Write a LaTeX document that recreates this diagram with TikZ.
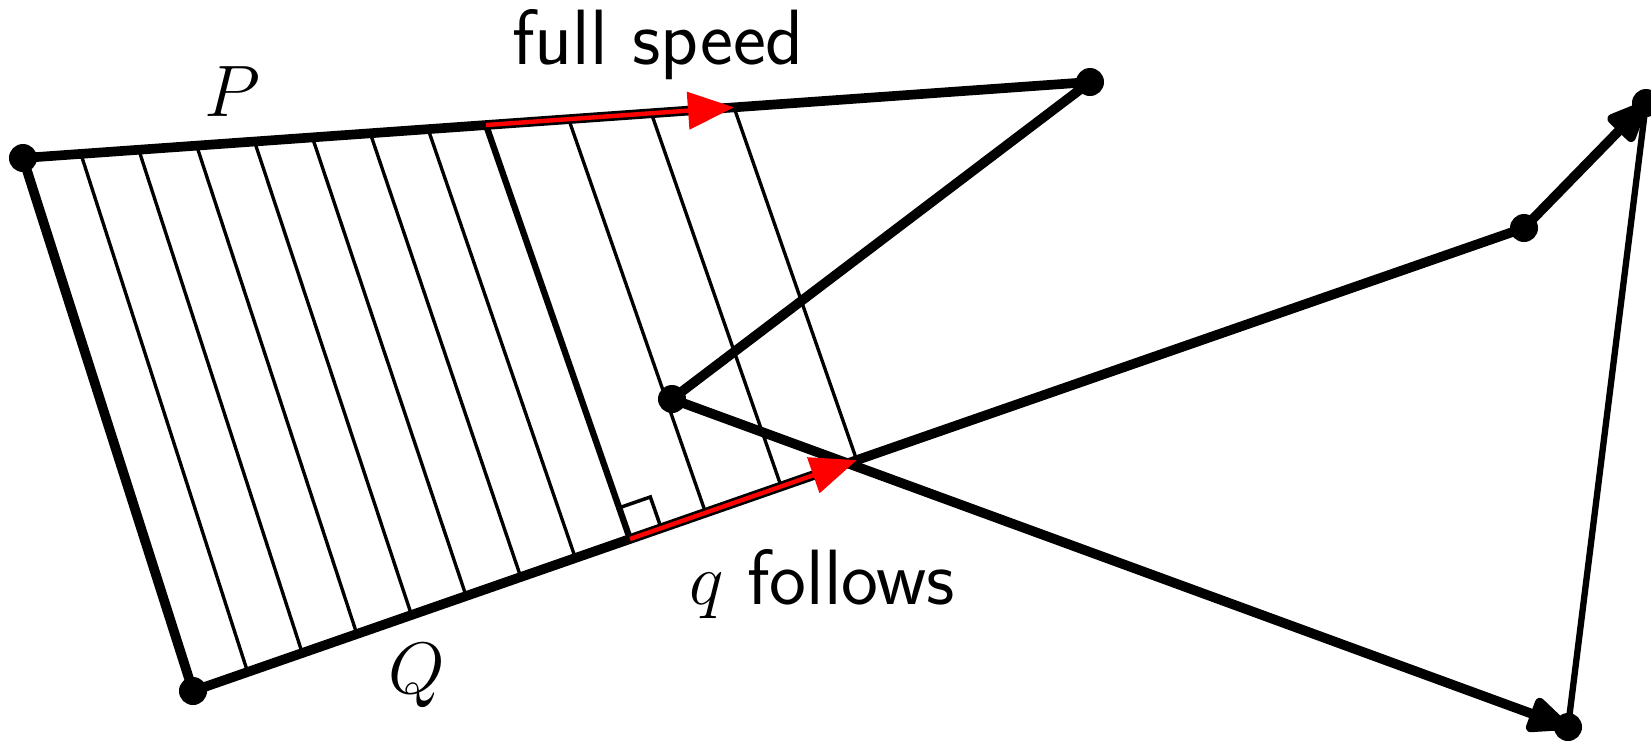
\documentclass[tikz,border=0pt]{standalone}
\usetikzlibrary{calc,arrows.meta}
\begin{document}
\begin{tikzpicture}[x=0.01cm,y=-0.01cm,
  mainline/.style={line width=2.75pt, line join=round},
  medline/.style={line width=1.8pt},
  hatch/.style={line width=0.95pt},
  anglemark/.style={line width=1.0pt},
  redarrow/.style={red, line width=1.25pt, -{Triangle[length=0.46cm,width=0.37cm]}},
  blackarrow/.style={-{Triangle[round,length=0.48cm,width=0.38cm]}},
  dot/.style={circle, fill=black, inner sep=0pt, minimum size=0.28cm},
  lbl/.style={font=\fontsize{22.3}{26}\selectfont, anchor=base, inner sep=0pt}]
\useasboundingbox (0,0) rectangle (1651,741);
% key points
\coordinate (P0) at (23,158);
\coordinate (P1) at (1090,82);
\coordinate (M)  at (672,399);
\coordinate (R3) at (1568,727);
\coordinate (Q0) at (193,691);
\coordinate (R1) at (1524,228);
\coordinate (R2) at (1646,103);
\coordinate (FP) at ($(P0)!0.43393!(P1)$);
\coordinate (FQ) at ($(Q0)!0.32832!(R1)$);
\coordinate (PE) at ($(P0)!0.66635!(P1)$);
\coordinate (QE) at ($(Q0)!0.49867!(R1)$);
% hatch lines (left part)
\foreach \k in {1,...,7}{
  \draw[hatch] ($(P0)!\k/8!(FP)$) -- ($(Q0)!\k/8!(FQ)$);
}
% hatch lines (right part, perpendicular to Q)
\foreach \k in {1,2,3}{
  \draw[hatch] ($(FP)!\k/3!(PE)$) -- ($(FQ)!\k/3!(QE)$);
}
% right angle mark
\coordinate (RA) at ($(FQ)!0.33cm!(FP)$);
\coordinate (RC) at ($(FQ)!0.33cm!(QE)$);
\coordinate (RB) at ($(RA)+(RC)-(FQ)$);
\draw[anglemark] (RA) -- (RB) -- (RC);
% thick perpendicular
\draw[medline] (FP) -- (FQ);
% main polylines
\draw[mainline] (P0) -- (Q0);
\draw[medline] (R2) -- (R3);
\draw[mainline, blackarrow] (P0) -- (P1) -- (M) -- (R3);
\draw[mainline, blackarrow] (Q0) -- (R1) -- (R2);
% red arrows
\draw[redarrow] (FP) -- (PE);
\draw[redarrow] (FQ) -- (QE);
% dots
\node[dot] (nP0) at (P0) {};
\node[dot] (nP1) at (P1) {};
\node[dot] (nM)  at (M) {};
\node[dot] (nR3) at (R3) {};
\node[dot] (nQ0) at (Q0) {};
\node[dot] (nR1) at (R1) {};
\node[dot] (nR2) at (R2) {};
% labels
\node[lbl] (lfull) at (658,64) {\sffamily full speed};
\node[lbl] (lP) at (232,116) {$P$};
\node[lbl] (lQ) at (417,693) {$Q$};
\node[lbl] (lq) at (822,604) {$q$ \sffamily follows};
\end{tikzpicture}
\end{document}
